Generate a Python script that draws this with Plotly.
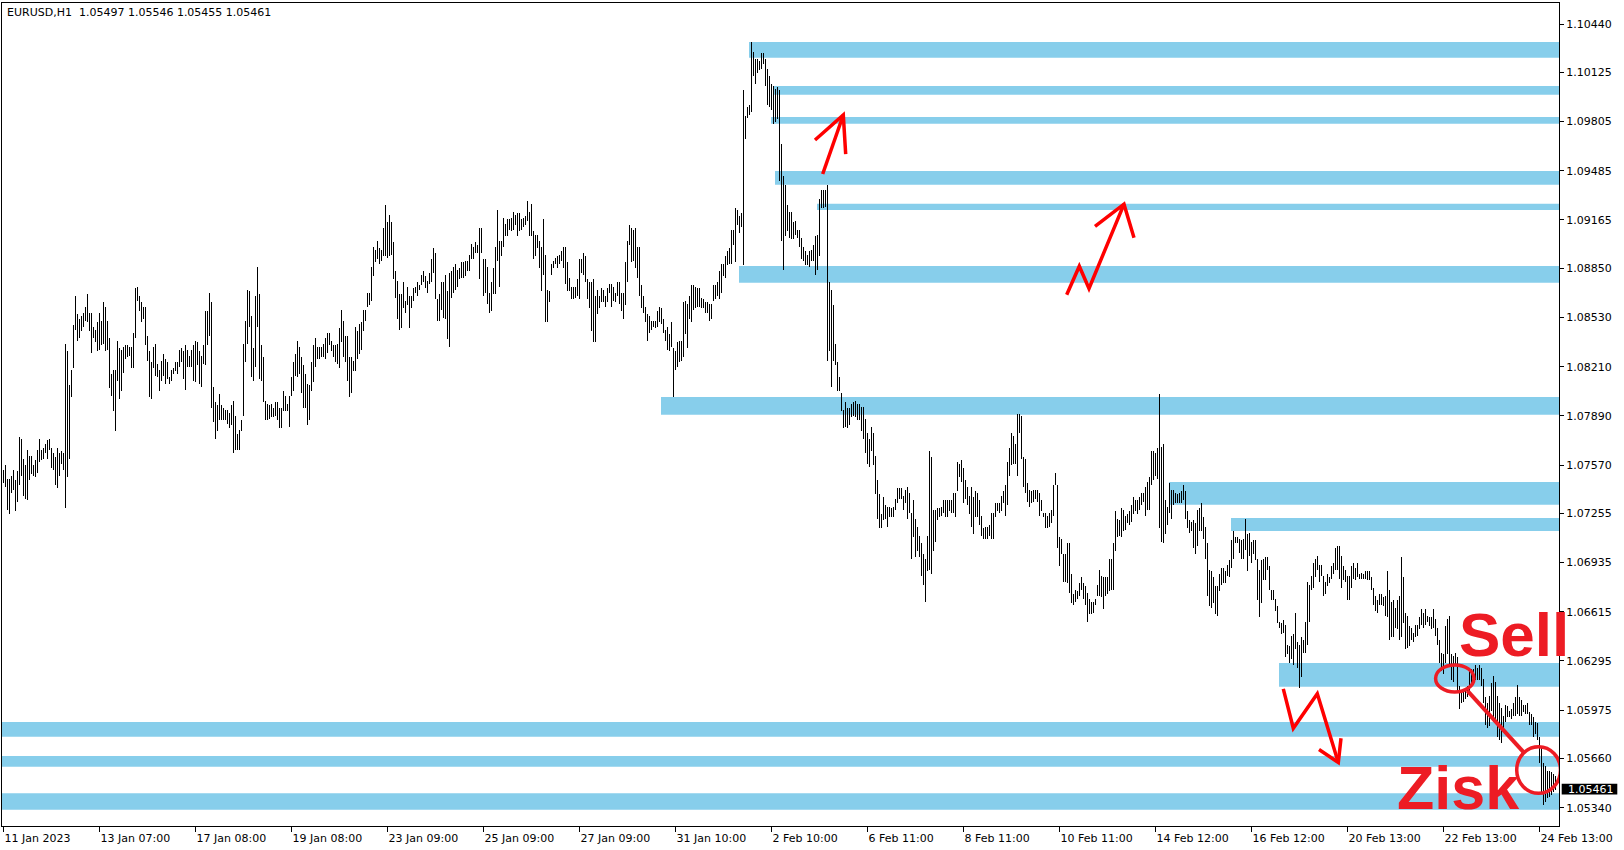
import plotly.graph_objects as go

# ---------------- data (EURUSD H1) ----------------
bar_high = [
1.0754,1.0757,1.0748,1.0748,1.0750,1.0754,1.0747,1.0753,1.0775,1.0774,
1.0761,1.0757,1.0767,1.0763,1.0763,1.0757,1.0760,1.0767,1.0774,1.0767,
1.0768,1.0771,1.0773,1.0774,1.0768,1.0765,1.0762,1.0768,1.0765,1.0766,
1.0765,1.0836,1.0831,1.0809,1.0819,1.0848,1.0867,1.0855,1.0852,1.0854,
1.0856,1.0860,1.0868,1.0856,1.0856,1.0847,1.0845,1.0850,1.0856,1.0851,
1.0863,1.0860,1.0851,1.0840,1.0816,1.0819,1.0819,1.0838,1.0833,1.0832,
1.0834,1.0835,1.0835,1.0834,1.0834,1.0843,1.0872,1.0873,1.0867,1.0863,
1.0860,1.0860,1.0841,1.0831,1.0824,1.0834,1.0836,1.0823,1.0819,1.0825,
1.0829,1.0826,1.0824,1.0814,1.0819,1.0820,1.0824,1.0824,1.0832,1.0833,
1.0831,1.0835,1.0832,1.0828,1.0832,1.0835,1.0838,1.0837,1.0831,1.0828,
1.0835,1.0857,1.0857,1.0869,1.0863,1.0808,1.0798,1.0796,1.0803,1.0796,
1.0794,1.0793,1.0793,1.0791,1.0796,1.0799,1.0789,1.0777,1.0780,1.0786,
1.0836,1.0851,1.0871,1.0870,1.0854,1.0833,1.0867,1.0886,1.0868,1.0835,
1.0827,1.0799,1.0797,1.0796,1.0797,1.0794,1.0798,1.0798,1.0794,1.0794,
1.0805,1.0802,1.0797,1.0802,1.0814,1.0824,1.0829,1.0838,1.0834,1.0827,
1.0822,1.0816,1.0810,1.0809,1.0824,1.0835,1.0840,1.0834,1.0834,1.0834,
1.0836,1.0840,1.0843,1.0843,1.0838,1.0835,1.0835,1.0836,1.0846,1.0858,
1.0851,1.0841,1.0841,1.0827,1.0827,1.0825,1.0847,1.0844,1.0849,1.0850,
1.0858,1.0858,1.0869,1.0869,1.0886,1.0899,1.0897,1.0903,1.0898,1.0897,
1.0911,1.0926,1.0915,1.0920,1.0915,1.0902,1.0883,1.0877,1.0868,1.0868,
1.0876,1.0864,1.0873,1.0867,1.0867,1.0872,1.0873,1.0876,1.0874,1.0881,
1.0883,1.0880,1.0877,1.0882,1.0891,1.0898,1.0895,1.0865,1.0868,1.0876,
1.0876,1.0881,1.0870,1.0882,1.0883,1.0886,1.0888,1.0884,1.0885,1.0889,
1.0889,1.0890,1.0890,1.0894,1.0901,1.0899,1.0902,1.0900,1.0911,1.0911,
1.0891,1.0891,1.0886,1.0869,1.0876,1.0885,1.0899,1.0923,1.0903,1.0903,
1.0918,1.0914,1.0917,1.0917,1.0918,1.0922,1.0920,1.0921,1.0921,1.0917,
1.0918,1.0919,1.0929,1.0922,1.0927,1.0909,1.0907,1.0907,1.0903,1.0899,
1.0917,1.0894,1.0871,1.0870,1.0888,1.0890,1.0892,1.0893,1.0894,1.0896,
1.0899,1.0899,1.0889,1.0879,1.0873,1.0873,1.0873,1.0878,1.0891,1.0891,
1.0895,1.0893,1.0878,1.0876,1.0876,1.0878,1.0867,1.0871,1.0867,1.0872,
1.0871,1.0867,1.0872,1.0875,1.0875,1.0873,1.0869,1.0876,1.0876,1.0869,
1.0869,1.0889,1.0903,1.0913,1.0911,1.0910,1.0911,1.0899,1.0899,1.0874,
1.0867,1.0860,1.0855,1.0854,1.0851,1.0851,1.0851,1.0857,1.0860,1.0859,
1.0852,1.0845,1.0847,1.0842,1.0850,1.0833,1.0831,1.0837,1.0838,1.0838,
1.0863,1.0864,1.0862,1.0867,1.0874,1.0874,1.0873,1.0872,1.0872,1.0866,
1.0865,1.0863,1.0863,1.0862,1.0862,1.0874,1.0874,1.0876,1.0883,1.0888,
1.0888,1.0893,1.0896,1.0898,1.0910,1.0910,1.0924,1.0923,1.0919,1.0921,
1.1001,1.0984,1.0990,1.0991,1.1032,1.1026,1.1021,1.1021,1.1020,1.1025,
1.1025,1.1021,1.1015,1.1010,1.1005,1.1004,1.1002,1.1003,1.1001,1.0966,
1.0945,1.0939,1.0926,1.0922,1.0922,1.0915,1.0916,1.0910,1.0910,1.0905,
1.0899,1.0896,1.0894,1.0896,1.0897,1.0900,1.0906,1.0907,1.0930,1.0936,
1.0936,1.0936,1.0939,1.0876,1.0871,1.0861,1.0836,1.0824,1.0814,1.0804,
1.0793,1.0798,1.0794,1.0794,1.0797,1.0798,1.0799,1.0797,1.0797,1.0795,
1.0795,1.0787,1.0778,1.0774,1.0782,1.0778,1.0763,1.0747,1.0738,1.0725,
1.0736,1.0731,1.0730,1.0730,1.0729,1.0730,1.0735,1.0742,1.0742,1.0742,
1.0737,1.0741,1.0743,1.0739,1.0726,1.0734,1.0722,1.0717,1.0711,1.0706,
1.0699,1.0696,1.0711,1.0766,1.0762,1.0728,1.0728,1.0729,1.0729,1.0730,
1.0734,1.0734,1.0734,1.0734,1.0734,1.0739,1.0739,1.0759,1.0758,1.0760,
1.0755,1.0747,1.0743,1.0737,1.0743,1.0736,1.0740,1.0739,1.0734,1.0724,
1.0716,1.0717,1.0717,1.0718,1.0726,1.0726,1.0732,1.0732,1.0732,1.0737,
1.0740,1.0744,1.0759,1.0768,1.0778,1.0776,1.0771,1.0790,1.0790,1.0789,
1.0762,1.0761,1.0745,1.0741,1.0740,1.0741,1.0741,1.0741,1.0739,1.0734,
1.0726,1.0726,1.0724,1.0726,1.0728,1.0744,1.0752,1.0744,1.0710,1.0709,
1.0699,1.0699,1.0706,1.0706,1.0686,1.0673,1.0676,1.0675,1.0680,1.0684,
1.0680,1.0678,1.0674,1.0670,1.0668,1.0668,1.0670,1.0679,1.0689,1.0685,
1.0684,1.0684,1.0684,1.0696,1.0696,1.0706,1.0727,1.0722,1.0721,1.0729,
1.0728,1.0724,1.0725,1.0727,1.0731,1.0736,1.0734,1.0734,1.0736,1.0739,
1.0739,1.0743,1.0746,1.0749,1.0766,1.0766,1.0765,1.0768,1.0803,1.0769,
1.0771,1.0734,1.0730,1.0745,1.0741,1.0741,1.0739,1.0738,1.0739,1.0740,
1.0744,1.0740,1.0727,1.0721,1.0720,1.0721,1.0719,1.0728,1.0729,1.0732,
1.0723,1.0717,1.0706,1.0689,1.0688,1.0684,1.0678,1.0678,1.0686,1.0690,
1.0690,1.0688,1.0692,1.0695,1.0708,1.0714,1.0710,1.0710,1.0709,1.0708,
1.0709,1.0722,1.0712,1.0713,1.0707,1.0708,1.0708,1.0696,1.0689,1.0695,
1.0696,1.0697,1.0697,1.0691,1.0676,1.0676,1.0670,1.0665,1.0655,1.0654,
1.0656,1.0653,1.0640,1.0639,1.0646,1.0647,1.0661,1.0642,1.0640,1.0645,
1.0643,1.0655,1.0681,1.0679,1.0685,1.0693,1.0696,1.0698,1.0692,1.0692,
1.0685,1.0681,1.0686,1.0684,1.0691,1.0693,1.0703,1.0704,1.0704,1.0698,
1.0691,1.0689,1.0685,1.0685,1.0691,1.0693,1.0690,1.0693,1.0686,1.0687,
1.0686,1.0688,1.0688,1.0688,1.0684,1.0677,1.0672,1.0669,1.0673,1.0673,
1.0671,1.0672,1.0688,1.0676,1.0668,1.0669,1.0664,1.0669,1.0672,1.0697,
1.0684,1.0661,1.0659,1.0652,1.0651,1.0648,1.0653,1.0653,1.0658,1.0663,
1.0661,1.0663,1.0659,1.0658,1.0658,1.0663,1.0657,1.0651,1.0643,1.0635,
1.0634,1.0652,1.0657,1.0659,1.0634,1.0633,1.0635,1.0632,1.0613,1.0610,
1.0610,1.0612,1.0613,1.0624,1.0624,1.0624,1.0627,1.0625,1.0627,1.0625,
1.0618,1.0606,1.0602,1.0607,1.0615,1.0620,1.0616,1.0607,1.0602,1.0599,
1.0594,1.0601,1.0600,1.0597,1.0598,1.0602,1.0606,1.0614,1.0606,1.0604,
1.0601,1.0601,1.0602,1.0596,1.0595,1.0593,1.0590,1.0589,1.0580,1.0574,
1.0563,1.0561,1.0558,1.0558,1.0557,1.0556,1.05546,
]

bar_low = [
1.0745,1.0743,1.0728,1.0725,1.0739,1.0741,1.0727,1.0733,1.0744,1.0750,
1.0737,1.0735,1.0734,1.0747,1.0751,1.0750,1.0749,1.0752,1.0759,1.0760,
1.0761,1.0765,1.0761,1.0767,1.0755,1.0754,1.0744,1.0742,1.0750,1.0758,
1.0754,1.0729,1.0749,1.0761,1.0801,1.0820,1.0845,1.0838,1.0840,1.0844,
1.0847,1.0851,1.0850,1.0844,1.0830,1.0840,1.0837,1.0831,1.0832,1.0835,
1.0836,1.0831,1.0832,1.0807,1.0802,1.0792,1.0779,1.0812,1.0800,1.0805,
1.0817,1.0826,1.0827,1.0828,1.0820,1.0820,1.0840,1.0864,1.0857,1.0850,
1.0852,1.0835,1.0825,1.0801,1.0800,1.0820,1.0815,1.0814,1.0805,1.0812,
1.0815,1.0810,1.0813,1.0810,1.0812,1.0816,1.0818,1.0816,1.0821,1.0824,
1.0813,1.0806,1.0821,1.0821,1.0821,1.0812,1.0811,1.0822,1.0810,1.0808,
1.0823,1.0822,1.0835,1.0841,1.0794,1.0785,1.0774,1.0779,1.0786,1.0786,
1.0786,1.0786,1.0784,1.0781,1.0783,1.0765,1.0767,1.0767,1.0767,1.0779,
1.0789,1.0824,1.0836,1.0847,1.0814,1.0812,1.0821,1.0847,1.0813,1.0812,
1.0798,1.0786,1.0786,1.0787,1.0788,1.0788,1.0789,1.0786,1.0781,1.0781,
1.0792,1.0792,1.0792,1.0782,1.0802,1.0805,1.0815,1.0814,1.0816,1.0804,
1.0794,1.0794,1.0783,1.0786,1.0805,1.0811,1.0821,1.0826,1.0826,1.0827,
1.0827,1.0826,1.0830,1.0835,1.0831,1.0827,1.0824,1.0823,1.0820,1.0837,
1.0827,1.0824,1.0812,1.0801,1.0804,1.0818,1.0818,1.0826,1.0829,1.0832,
1.0844,1.0851,1.0860,1.0861,1.0864,1.0880,1.0889,1.0891,1.0888,1.0890,
1.0893,1.0893,1.0892,1.0893,1.0894,1.0878,1.0866,1.0852,1.0845,1.0846,
1.0859,1.0856,1.0861,1.0846,1.0859,1.0864,1.0869,1.0867,1.0871,1.0874,
1.0876,1.0872,1.0869,1.0875,1.0876,1.0882,1.0865,1.0851,1.0851,1.0858,
1.0853,1.0852,1.0839,1.0834,1.0866,1.0869,1.0871,1.0873,1.0878,1.0879,
1.0879,1.0880,1.0883,1.0883,1.0891,1.0891,1.0895,1.0895,1.0878,1.0895,
1.0867,1.0869,1.0862,1.0856,1.0857,1.0868,1.0868,1.0890,1.0873,1.0893,
1.0899,1.0906,1.0906,1.0910,1.0909,1.0910,1.0913,1.0906,1.0909,1.0910,
1.0912,1.0913,1.0916,1.0906,1.0906,1.0891,1.0893,1.0898,1.0885,1.0870,
1.0881,1.0850,1.0850,1.0863,1.0881,1.0885,1.0888,1.0885,1.0888,1.0890,
1.0885,1.0875,1.0870,1.0870,1.0865,1.0865,1.0866,1.0867,1.0865,1.0882,
1.0881,1.0876,1.0865,1.0859,1.0844,1.0837,1.0837,1.0855,1.0859,1.0863,
1.0863,1.0860,1.0863,1.0869,1.0860,1.0864,1.0863,1.0867,1.0862,1.0857,
1.0852,1.0861,1.0876,1.0900,1.0889,1.0890,1.0885,1.0879,1.0867,1.0859,
1.0856,1.0850,1.0838,1.0843,1.0845,1.0847,1.0846,1.0847,1.0850,1.0849,
1.0843,1.0838,1.0832,1.0831,1.0834,1.0801,1.0819,1.0821,1.0824,1.0825,
1.0827,1.0842,1.0833,1.0852,1.0850,1.0858,1.0859,1.0860,1.0860,1.0859,
1.0859,1.0856,1.0856,1.0851,1.0852,1.0864,1.0865,1.0867,1.0865,1.0869,
1.0880,1.0879,1.0887,1.0888,1.0888,1.0900,1.0889,1.0913,1.0908,1.0912,
1.0887,1.0969,1.0983,1.0985,1.0987,1.1010,1.1005,1.1012,1.1014,1.1015,
1.1018,1.1004,1.0991,1.0990,1.0988,1.0979,1.0980,1.0982,1.0942,1.0903,
1.0884,1.0906,1.0909,1.0905,1.0904,1.0904,1.0907,1.0905,1.0899,1.0891,
1.0890,1.0887,1.0887,1.0886,1.0890,1.0890,1.0881,1.0884,1.0893,1.0924,
1.0924,1.0925,1.0825,1.0831,1.0808,1.0825,1.0822,1.0805,1.0805,1.0792,
1.0781,1.0782,1.0781,1.0783,1.0788,1.0789,1.0788,1.0786,1.0786,1.0779,
1.0774,1.0765,1.0758,1.0756,1.0766,1.0757,1.0738,1.0722,1.0716,1.0716,
1.0721,1.0722,1.0717,1.0723,1.0723,1.0723,1.0728,1.0732,1.0735,1.0735,
1.0728,1.0732,1.0722,1.0726,1.0696,1.0710,1.0697,1.0701,1.0697,1.0685,
1.0679,1.0668,1.0688,1.0689,1.0686,1.0701,1.0707,1.0721,1.0723,1.0724,
1.0726,1.0723,1.0723,1.0727,1.0726,1.0726,1.0723,1.0740,1.0749,1.0746,
1.0732,1.0735,1.0731,1.0725,1.0717,1.0712,1.0723,1.0723,1.0718,1.0711,
1.0709,1.0709,1.0709,1.0711,1.0709,1.0709,1.0723,1.0727,1.0726,1.0727,
1.0732,1.0724,1.0731,1.0750,1.0757,1.0758,1.0758,1.0750,1.0778,1.0761,
1.0743,1.0739,1.0733,1.0730,1.0732,1.0733,1.0735,1.0733,1.0724,1.0727,
1.0723,1.0716,1.0716,1.0717,1.0719,1.0724,1.0744,1.0703,1.0691,1.0699,
1.0681,1.0681,1.0680,1.0674,1.0667,1.0666,1.0668,1.0670,1.0672,1.0676,
1.0670,1.0666,1.0655,1.0660,1.0660,1.0661,1.0666,1.0672,1.0672,1.0671,
1.0663,1.0672,1.0673,1.0675,1.0676,1.0676,1.0701,1.0710,1.0711,1.0710,
1.0714,1.0715,1.0719,1.0718,1.0720,1.0725,1.0727,1.0725,1.0728,1.0731,
1.0733,1.0724,1.0728,1.0728,1.0744,1.0747,1.0750,1.0748,1.0716,1.0707,
1.0706,1.0712,1.0718,1.0726,1.0722,1.0731,1.0732,1.0732,1.0732,1.0732,
1.0734,1.0722,1.0716,1.0713,1.0714,1.0703,1.0699,1.0704,1.0714,1.0714,
1.0709,1.0696,1.0672,1.0665,1.0664,1.0667,1.0660,1.0659,1.0675,1.0679,
1.0680,1.0680,1.0685,1.0684,1.0690,1.0696,1.0706,1.0706,1.0700,1.0696,
1.0696,1.0702,1.0688,1.0698,1.0693,1.0699,1.0695,1.0669,1.0658,1.0667,
1.0682,1.0682,1.0689,1.0676,1.0669,1.0669,1.0662,1.0654,1.0651,1.0647,
1.0648,1.0632,1.0634,1.0628,1.0631,1.0627,1.0637,1.0625,1.0612,1.0619,
1.0635,1.0635,1.0640,1.0655,1.0676,1.0677,1.0684,1.0689,1.0681,1.0685,
1.0672,1.0673,1.0678,1.0680,1.0683,1.0686,1.0689,1.0689,1.0683,1.0677,
1.0682,1.0681,1.0669,1.0669,1.0677,1.0683,1.0682,1.0684,1.0683,1.0683,
1.0683,1.0683,1.0682,1.0682,1.0676,1.0666,1.0662,1.0661,1.0666,1.0666,
1.0665,1.0659,1.0658,1.0643,1.0645,1.0645,1.0651,1.0650,1.0643,1.0645,
1.0654,1.0637,1.0638,1.0639,1.0643,1.0642,1.0645,1.0646,1.0650,1.0653,
1.0651,1.0653,1.0655,1.0652,1.0650,1.0651,1.0646,1.0640,1.0628,1.0623,
1.0621,1.0628,1.0634,1.0626,1.0617,1.0616,1.0627,1.0609,1.0598,1.0602,
1.0603,1.0605,1.0606,1.0609,1.0615,1.0619,1.0617,1.0617,1.0617,1.0613,
1.0602,1.0588,1.0586,1.0587,1.0597,1.0590,1.0592,1.0580,1.0578,1.0576,
1.0586,1.0590,1.0593,1.0593,1.0592,1.0594,1.0594,1.0595,1.0594,1.0594,
1.0596,1.0595,1.0595,1.0588,1.0588,1.0580,1.0582,1.0578,1.0563,1.0543,
1.0536,1.0538,1.0540,1.0541,1.0542,1.0544,1.05455,
]

last_bar_ohlc = [1.05497, 1.05546, 1.05455, 1.05461]

time_label_bars = [0, 48, 96, 144, 192, 240, 288, 336, 384, 432, 480, 528, 576, 624, 672, 720, 768]
time_labels = ["11 Jan 2023", "13 Jan 07:00", "17 Jan 08:00", "19 Jan 08:00", "23 Jan 09:00",
               "25 Jan 09:00", "27 Jan 09:00", "31 Jan 10:00", "2 Feb 10:00", "6 Feb 11:00",
               "8 Feb 11:00", "10 Feb 11:00", "14 Feb 12:00", "16 Feb 12:00", "20 Feb 13:00",
               "22 Feb 13:00", "24 Feb 13:00"]

price_labels = ["1.10440", "1.10125", "1.09805", "1.09485", "1.09165", "1.08850", "1.08530",
                "1.08210", "1.07890", "1.07570", "1.07255", "1.06935", "1.06615", "1.06295",
                "1.05975", "1.05660", "1.05340"]

# support / resistance zones: start bar, top price, bottom price
zone_start = [372.75, 384.9, 383.75, 385.75, 406.75, 367.75, 328.75, 582.75, 613.75, 637.75, -2, -2, -2]
zone_top = [1.10323, 1.10037, 1.09835, 1.09483, 1.09271, 1.08865, 1.08013, 1.07460, 1.07225, 1.06282, 1.05898, 1.05677, 1.05434]
zone_bottom = [1.10221, 1.09980, 1.09791, 1.09394, 1.09230, 1.08757, 1.07898, 1.07312, 1.07141, 1.06128, 1.05802, 1.05607, 1.05326]

symbol = "EURUSD,H1"

# ---------------- figure ----------------
ZONE = "#87CEEB"
RED = "#ED1C24"
ARROW = "#FF0000"
FONT = "DejaVu Sans"

n = min(len(bar_high), len(bar_low))
bars = list(range(n))
highs = bar_high[:n]
lows = bar_low[:n]

fig = go.Figure()
fig.add_trace(go.Bar(
    x=bars,
    y=[h - l for h, l in zip(highs, lows)],
    base=lows,
    width=0.5,
    marker=dict(color="black", line=dict(width=0)),
    hoverinfo="skip",
    showlegend=False,
))

shapes = []
for xs, yt, yb in zip(zone_start, zone_top, zone_bottom):
    shapes.append(dict(type="rect", xref="x", yref="y", x0=xs, x1=800, y0=yb, y1=yt,
                       fillcolor=ZONE, line=dict(width=0), layer="below"))

def path(points):
    return "M " + " L ".join(f"{x},{y}" for x, y in points)

arrow_w = 3.5
# arrow near 2 Feb
shapes.append(dict(type="path", xref="x", yref="y", layer="above",
                   path=path([(409.6, 1.09464), (419.9, 1.09848)]), line=dict(color=ARROW, width=arrow_w)))
shapes.append(dict(type="path", xref="x", yref="y", layer="above",
                   path=path([(405.75, 1.09685), (419.9, 1.09848), (421.1, 1.09594)]), line=dict(color=ARROW, width=arrow_w)))
# zig-zag arrow near 9 Feb
shapes.append(dict(type="path", xref="x", yref="y", layer="above",
                   path=path([(531.6, 1.08678), (537.9, 1.08864), (542.75, 1.08719), (560.25, 1.09268)]),
                   line=dict(color=ARROW, width=arrow_w)))
shapes.append(dict(type="path", xref="x", yref="y", layer="above",
                   path=path([(545.75, 1.09123), (560.25, 1.09268), (565.25, 1.09050)]), line=dict(color=ARROW, width=arrow_w)))
# zig-zag arrow near 16 Feb
shapes.append(dict(type="path", xref="x", yref="y", layer="above",
                   path=path([(639.9, 1.06113), (644.9, 1.05857), (656.9, 1.06082), (667.4, 1.05634)]),
                   line=dict(color=ARROW, width=arrow_w)))
shapes.append(dict(type="path", xref="x", yref="y", layer="above",
                   path=path([(657.75, 1.05719), (667.4, 1.05634), (668.75, 1.05792)]), line=dict(color=ARROW, width=arrow_w)))
# circles + connecting line
shapes.append(dict(type="circle", xref="x", yref="y", layer="above", x0=716.05, x1=735.25,
                   y0=1.06093, y1=1.06269, line=dict(color=RED, width=3.5)))
shapes.append(dict(type="circle", xref="x", yref="y", layer="above", x0=756.6, x1=778.5,
                   y0=1.05434, y1=1.05737, line=dict(color=RED, width=3.5)))
shapes.append(dict(type="path", xref="x", yref="y", layer="above",
                   path=path([(731.9, 1.06102), (760.25, 1.05698)]), line=dict(color=RED, width=4)))

# current price box on the price scale
close_px = last_bar_ohlc[3]
shapes.append(dict(type="rect", xref="paper", yref="y", x0=1 + 2.7 / 1557, x1=1 + 58.3 / 1557,
                   y0=close_px - 0.000345, y1=close_px + 0.000345,
                   fillcolor="black", line=dict(width=0), layer="above"))

annotations = [
    dict(xref="paper", yref="paper", x=0, y=1, xanchor="left", yanchor="middle",
         xshift=3.3, yshift=-9.5, showarrow=False,
         text=symbol + "\u00a0\u00a0" + " ".join(f"{v:.5f}" for v in last_bar_ohlc),
         font=dict(family=FONT, size=11, color="black")),
    dict(xref="paper", yref="y", x=1, y=close_px, xanchor="left", yanchor="middle",
         xshift=6.7, showarrow=False, text=f"{close_px:.5f}",
         font=dict(family=FONT, size=11, color="white")),
    dict(xref="x", yref="y", x=726.8, y=1.06467, xanchor="left", yanchor="middle",
         showarrow=False, text="Sell",
         font=dict(family="Liberation Sans", size=62, color=RED, weight=700)),
    dict(xref="x", yref="y", x=695.6, y=1.05466, xanchor="left", yanchor="middle",
         showarrow=False, text="Zisk",
         font=dict(family="Liberation Sans", size=61, color=RED, weight=700)),
]

fig.update_layout(
    width=1624, height=850,
    margin=dict(l=2, r=65, t=3, b=24, pad=0),
    paper_bgcolor="white", plot_bgcolor="white",
    font=dict(family=FONT, size=11, color="black"),
    showlegend=False, bargap=0,
    shapes=shapes, annotations=annotations,
)
fig.update_xaxes(
    range=[-0.75, 777.75], tickmode="array", tickvals=time_label_bars, ticktext=time_labels,
    ticks="outside", ticklen=5, tickcolor="black", tickwidth=1,
    ticklabelposition="outside right", ticklabelstandoff=2,
    showgrid=False, zeroline=False, showline=True, linecolor="black", linewidth=1, mirror=True,
    tickfont=dict(family=FONT, size=11, color="black"),
)
fig.update_yaxes(
    side="right", range=[1.05221, 1.10577], tickmode="array",
    tickvals=[float(t) for t in price_labels], ticktext=price_labels,
    ticks="outside", ticklen=4, tickcolor="black", tickwidth=1,
    showgrid=False, zeroline=False, showline=True, linecolor="black", linewidth=1, mirror=True,
    tickfont=dict(family=FONT, size=11, color="black"),
)

fig.write_html("out.html", config={"displayModeBar": False},
               post_script="document.body.style.margin='0';document.body.style.overflow='hidden';")
